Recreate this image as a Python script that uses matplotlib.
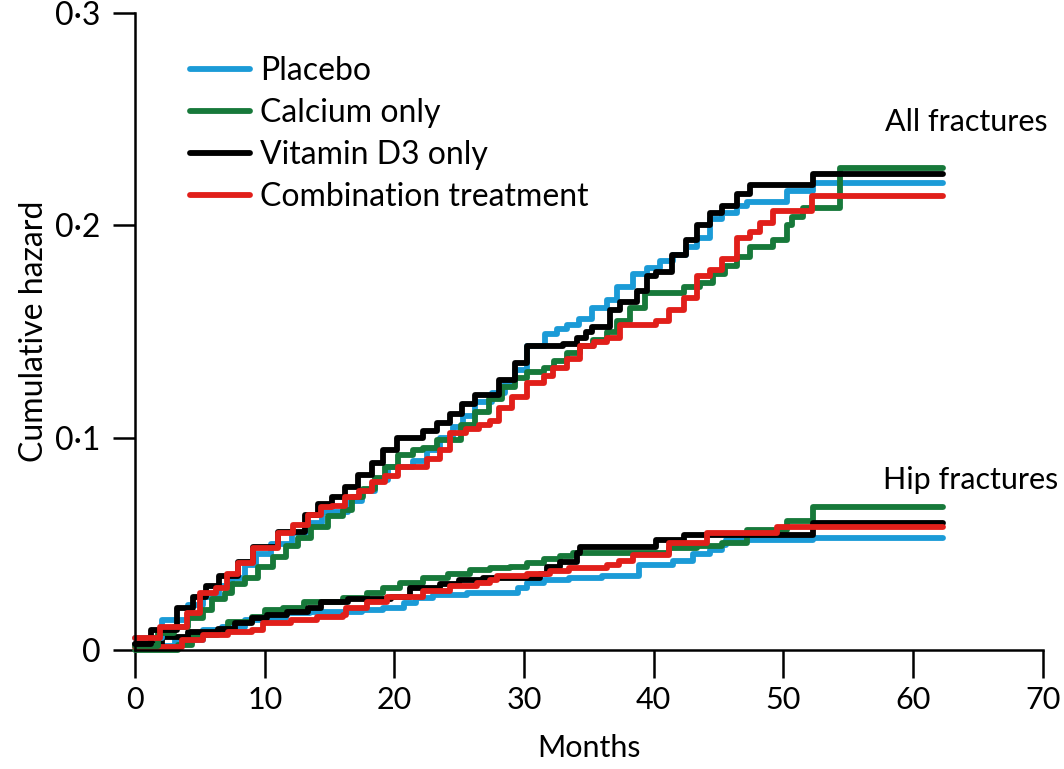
import matplotlib
matplotlib.use("Agg")
import matplotlib.pyplot as plt

plt.rcParams['font.family'] = ['Lato', 'DejaVu Sans']

# all fractures (months, cumulative hazard)
placebo_all_t = [0, 2.1, 4.1, 5.2, 6.5, 7.5, 8.5, 9.3, 10.5, 12.1, 13.2, 14.4, 16.4, 17.5, 18.5, 19.5, 21.4, 22.5, 23.5,
                 24.5, 25.3, 26.2, 27.5, 28.5, 29.3, 30.2, 31.6, 32.5, 33.3, 34.2, 35.2, 36.4, 37.2, 38.4, 39.5, 40.5,
                 41.5, 42.5, 43.3, 44.3, 45.3, 46.4, 47.2, 50.3, 52.3, 62.3]
placebo_all_h = [0.0057, 0.014, 0.021, 0.025, 0.030, 0.034, 0.040, 0.045, 0.050, 0.055, 0.060, 0.065, 0.070, 0.075,
                 0.080, 0.086, 0.089, 0.094, 0.100, 0.105, 0.110, 0.117, 0.121, 0.126, 0.132, 0.143, 0.149, 0.151,
                 0.153, 0.156, 0.161, 0.165, 0.171, 0.177, 0.180, 0.183, 0.186, 0.190, 0.194, 0.203, 0.206, 0.209,
                 0.211, 0.216, 0.220, 0.220]

calcium_all_t = [0, 1.8, 3.0, 4.1, 5.2, 5.9, 6.9, 7.5, 8.5, 9.5, 10.6, 11.6, 12.6, 13.6, 14.9, 16.0, 16.7, 17.6, 18.5,
                 19.3, 20.3, 21.4, 22.2, 23.3, 25.1, 26.2, 27.3, 28.3, 29.3, 30.2, 31.5, 32.3, 33.3, 34.3, 35.3, 36.4,
                 37.2, 38.2, 39.3, 42.3, 43.6, 44.6, 45.5, 46.4, 47.4, 49.2, 50.3, 50.7, 51.5, 54.4, 62.3]
calcium_all_h = [0.002, 0.008, 0.011, 0.015, 0.019, 0.024, 0.027, 0.031, 0.034, 0.039, 0.044, 0.049, 0.053, 0.058,
                 0.063, 0.066, 0.072, 0.076, 0.081, 0.086, 0.092, 0.094, 0.095, 0.099, 0.106, 0.112, 0.118, 0.124,
                 0.128, 0.131, 0.133, 0.136, 0.140, 0.143, 0.146, 0.150, 0.155, 0.161, 0.168, 0.171, 0.173, 0.177,
                 0.181, 0.185, 0.190, 0.193, 0.200, 0.204, 0.208, 0.227, 0.227]

vitd_all_t = [0, 1.2, 3.2, 4.5, 5.5, 6.5, 7.9, 9.1, 11.0, 13.1, 14.1, 15.2, 16.2, 17.2, 18.3, 19.1, 20.2, 22.2, 23.3,
              24.3, 25.2, 26.2, 28.1, 29.3, 30.2, 33.0, 34.1, 34.8, 35.2, 36.6, 37.4, 38.7, 39.5, 40.2, 41.4, 42.5,
              43.3, 44.3, 45.3, 46.4, 47.4, 52.3, 62.3]
vitd_all_h = [0.003, 0.0094, 0.020, 0.025, 0.030, 0.035, 0.0415, 0.0487, 0.0557, 0.0636, 0.069, 0.072, 0.077, 0.0826,
              0.088, 0.094, 0.100, 0.103, 0.107, 0.111, 0.116, 0.120, 0.127, 0.135, 0.143, 0.144, 0.147, 0.150, 0.152,
              0.160, 0.164, 0.169, 0.176, 0.178, 0.186, 0.193, 0.200, 0.206, 0.209, 0.215, 0.219, 0.224, 0.224]

combo_all_t = [0, 1.9, 4.0, 5.0, 6.2, 7.1, 7.9, 9.1, 11.0, 12.2, 13.3, 14.3, 15.2, 16.2, 17.3, 18.3, 19.3, 20.3, 22.5,
               23.5, 24.3, 25.5, 26.5, 27.4, 28.1, 29.1, 30.2, 31.5, 32.2, 33.3, 34.3, 35.4, 36.4, 37.4, 40.2, 41.2,
               42.3, 43.3, 44.3, 45.3, 46.4, 47.4, 48.2, 49.2, 52.2, 62.3]
combo_all_h = [0.0057, 0.011, 0.0175, 0.027, 0.029, 0.036, 0.041, 0.048, 0.055, 0.059, 0.0636, 0.0674, 0.068, 0.072,
               0.075, 0.079, 0.082, 0.086, 0.090, 0.094, 0.102, 0.104, 0.106, 0.108, 0.114, 0.119, 0.126, 0.129, 0.133,
               0.137, 0.143, 0.145, 0.147, 0.153, 0.155, 0.160, 0.166, 0.176, 0.179, 0.184, 0.194, 0.197, 0.201,
               0.207, 0.214, 0.214]

# hip fractures
placebo_hip_t = [0, 3.1, 5.2, 6.7, 8.5, 10.3, 11.6, 13.5, 17.5, 19.1, 20.7, 21.7, 23.0, 25.6, 29.5, 30.2, 31.5, 33.5,
                 36.0, 38.9, 41.5, 43.0, 44.3, 45.3, 45.6, 52.3, 62.3]
placebo_hip_h = [0.002, 0.0047, 0.0094, 0.011, 0.014, 0.015, 0.0174, 0.018, 0.019, 0.020, 0.022, 0.0245, 0.026, 0.027,
                 0.029, 0.0316, 0.033, 0.034, 0.035, 0.040, 0.042, 0.045, 0.047, 0.0495, 0.052, 0.053, 0.053]

calcium_hip_t = [0, 3.3, 4.4, 6.4, 7.2, 9.0, 10.0, 11.4, 13.0, 16.0, 17.9, 19.1, 20.4, 22.2, 24.1, 25.8, 27.4, 28.9,
                 30.2, 31.5, 32.8, 33.8, 41.2, 43.3, 45.3, 47.2, 50.3, 52.3, 62.3]
calcium_hip_h = [0.0, 0.0023, 0.007, 0.0094, 0.013, 0.0155, 0.019, 0.020, 0.0226, 0.0245, 0.027, 0.029, 0.0316, 0.034,
                 0.036, 0.0377, 0.0386, 0.039, 0.041, 0.043, 0.0445, 0.0457, 0.048, 0.049, 0.0504, 0.0565, 0.061,
                 0.0674, 0.0674]

vitd_hip_t = [0, 2.1, 4.1, 6.4, 7.7, 9.0, 10.2, 11.7, 13.3, 14.3, 16.4, 19.7, 21.2, 23.5, 25.0, 26.8, 31.2, 31.8, 32.8,
              34.1, 34.3, 40.2, 42.3, 52.3, 62.3]
vitd_hip_h = [0.003, 0.006, 0.0085, 0.010, 0.0127, 0.015, 0.0165, 0.018, 0.020, 0.0226, 0.024, 0.025, 0.029, 0.031,
              0.033, 0.034, 0.036, 0.039, 0.0415, 0.0457, 0.0486, 0.052, 0.054, 0.060, 0.060]

combo_hip_t = [0, 3.6, 5.2, 7.2, 9.0, 9.9, 12.0, 14.0, 16.0, 16.3, 17.9, 19.4, 22.2, 24.3, 26.4, 27.4, 27.9, 30.2,
               32.0, 33.5, 36.4, 37.3, 38.4, 41.2, 44.1, 49.5, 62.3]
combo_hip_h = [0.0015, 0.0047, 0.007, 0.0085, 0.0094, 0.0127, 0.014, 0.0155, 0.0165, 0.020, 0.0226, 0.025, 0.028,
               0.030, 0.0316, 0.033, 0.035, 0.036, 0.037, 0.0386, 0.040, 0.042, 0.0447, 0.0504, 0.055, 0.058, 0.058]

labels = ['Placebo', 'Calcium only', 'Vitamin D3 only', 'Combination treatment']
colors = ['#1b9bd7', '#17793a', '#000000', '#e11f1a']

xticks = [0, 10, 20, 30, 40, 50, 60, 70]
yticks = [0, 0.1, 0.2, 0.3]
ytick_labels = ['0', '0·1', '0·2', '0·3']

fig = plt.figure(figsize=(10.64, 7.69), dpi=100)
ax = fig.add_axes([0.127, 0.1547, 0.853, 0.8283])

all_series = [(placebo_all_t, placebo_all_h), (calcium_all_t, calcium_all_h),
              (vitd_all_t, vitd_all_h), (combo_all_t, combo_all_h)]
hip_series = [(placebo_hip_t, placebo_hip_h), (calcium_hip_t, calcium_hip_h),
              (vitd_hip_t, vitd_hip_h), (combo_hip_t, combo_hip_h)]

lw = 4.2
for (t, h), c in zip(hip_series, colors):
    ax.plot(t, h, drawstyle='steps-post', color=c, lw=lw, solid_capstyle='round', clip_on=False)
for (t, h), c, lab in zip(all_series, colors, labels):
    ax.plot(t, h, drawstyle='steps-post', color=c, lw=lw, solid_capstyle='round', clip_on=False, label=lab)

ax.set_xlim(0, 70)
ax.set_ylim(0, 0.3)
for s in ['top', 'right']:
    ax.spines[s].set_visible(False)
for s in ['left', 'bottom']:
    ax.spines[s].set_linewidth(1.8)
ax.set_xticks(xticks)
ax.set_yticks(yticks)
ax.set_yticklabels(ytick_labels)
ax.tick_params(axis='x', direction='out', length=20, width=1.8, pad=6, labelsize=22)
ax.tick_params(axis='y', direction='out', length=16, width=1.8, pad=9, labelsize=23)

ax.set_xlabel('Months', fontsize=22, labelpad=14)
ax.set_ylabel('Cumulative hazard', fontsize=23, labelpad=4)

ax.text(57.8, 0.2487, 'All fractures', fontsize=22, va='center', ha='left')
ax.text(57.7, 0.080, 'Hip fractures', fontsize=22, va='center', ha='left')

leg = ax.legend(loc='upper left', bbox_to_anchor=(0.06, 0.933), frameon=False, fontsize=23,
                handlelength=1.9, handletextpad=0.3, labelspacing=0.38, borderpad=0, borderaxespad=0)

fig.savefig('out.png', dpi=100)
